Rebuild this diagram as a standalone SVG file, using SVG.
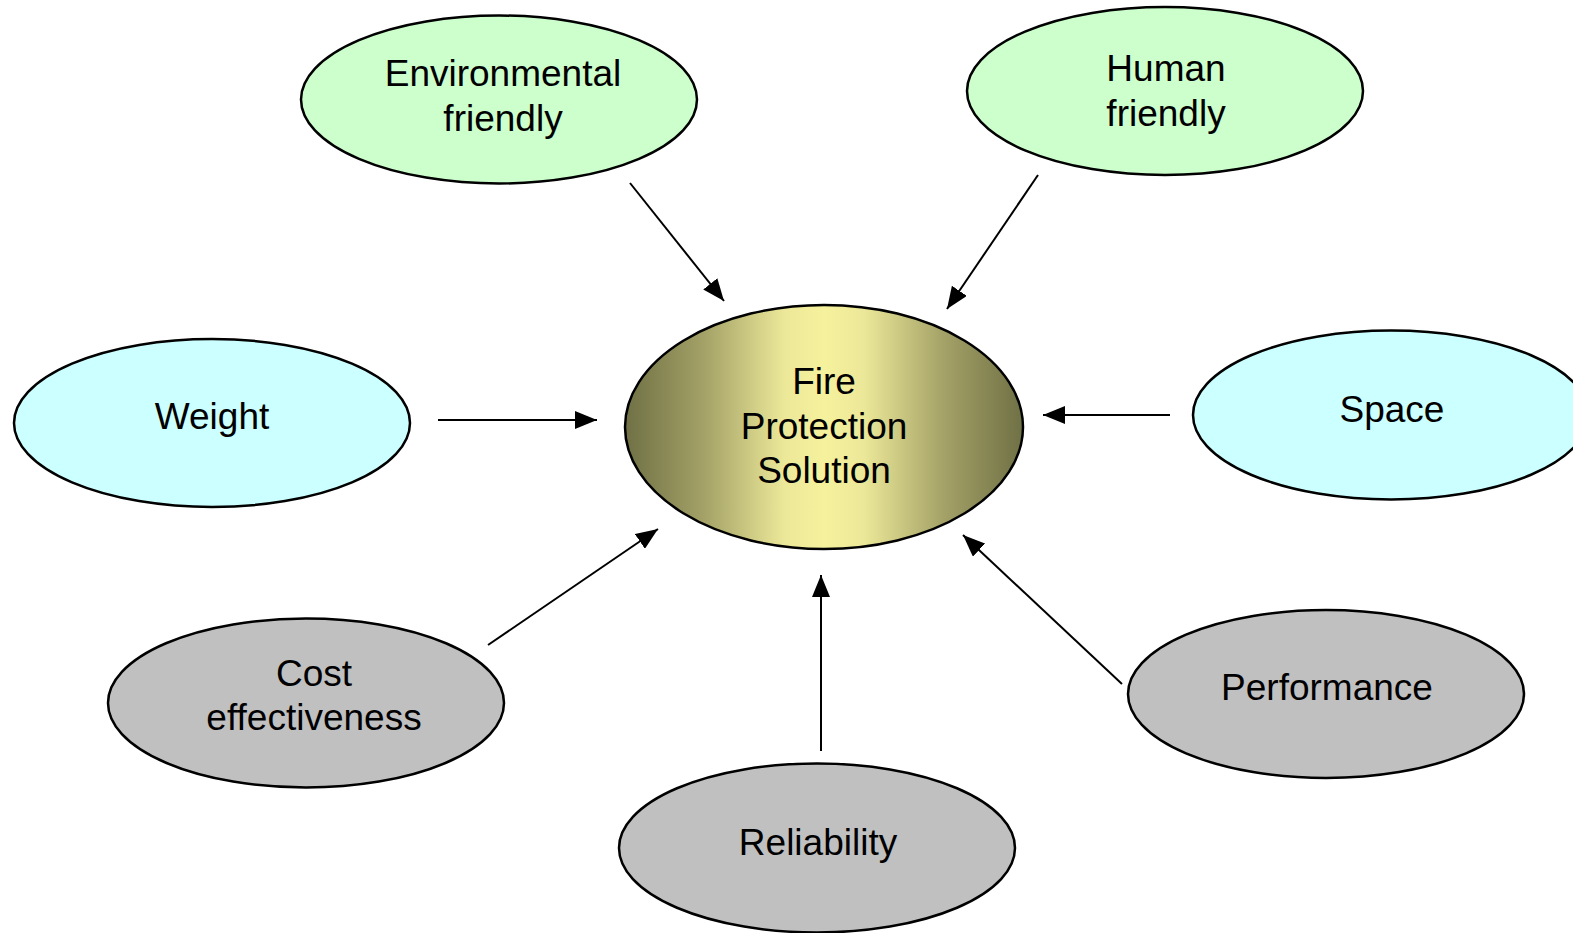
<svg xmlns="http://www.w3.org/2000/svg" width="1573" height="933" viewBox="0 0 1573 933">
<defs>
<linearGradient id="gold" x1="0" y1="0" x2="1" y2="0">
<stop offset="0" stop-color="#6f7045"/>
<stop offset="0.2" stop-color="#a4a267"/>
<stop offset="0.4" stop-color="#ece899"/>
<stop offset="0.5" stop-color="#f5f19c"/>
<stop offset="0.6" stop-color="#ece899"/>
<stop offset="0.8" stop-color="#a4a267"/>
<stop offset="1" stop-color="#6f7045"/>
</linearGradient>
<marker id="arr" viewBox="0 0 22 18" refX="22" refY="9" markerWidth="22" markerHeight="18" markerUnits="userSpaceOnUse" orient="auto">
<path d="M0,0 L22,9 L0,18 Z" fill="#000"/>
</marker>
</defs>
<style>
ellipse{stroke:#000;stroke-width:2.5}
.g{fill:#ccffcc}.c{fill:#ccffff}.s{fill:#c0c0c0}
text{font-family:"Liberation Sans",Arial,sans-serif;font-size:37px;fill:#000;text-anchor:middle}
#connectors line{stroke:#000;stroke-width:2;marker-end:url(#arr)}
</style>
<rect width="1573" height="933" fill="#fff"/>
<g id="connectors">
<line x1="630" y1="183" x2="724" y2="301"/>
<line x1="1038" y1="175" x2="947" y2="309"/>
<line x1="438" y1="420" x2="597" y2="420"/>
<line x1="1170" y1="415" x2="1043" y2="415"/>
<line x1="488" y1="645" x2="658" y2="529"/>
<line x1="821" y1="751" x2="821" y2="575"/>
<line x1="1122" y1="684" x2="963" y2="535"/>
</g>
<g id="env"><ellipse class="g" cx="499" cy="99.5" rx="198" ry="84"/><text x="503" y="86">Environmental</text><text x="503" y="131">friendly</text></g>
<g id="human"><ellipse class="g" cx="1165" cy="91" rx="198" ry="84"/><text x="1166" y="81">Human</text><text x="1166" y="126">friendly</text></g>
<g id="weight"><ellipse class="c" cx="212" cy="423" rx="198" ry="84"/><text x="212" y="429">Weight</text></g>
<g id="space"><ellipse class="c" cx="1391" cy="415" rx="198" ry="84.5"/><text x="1392" y="422">Space</text></g>
<g id="fire"><ellipse cx="824" cy="427" rx="199" ry="122" fill="url(#gold)"/><text x="824" y="394">Fire</text><text x="824" y="439">Protection</text><text x="824" y="483">Solution</text></g>
<g id="cost"><ellipse class="s" cx="306" cy="703" rx="198" ry="84.5"/><text x="314" y="686">Cost</text><text x="314" y="730">effectiveness</text></g>
<g id="reliability"><ellipse class="s" cx="817" cy="848" rx="198" ry="84.5"/><text x="818" y="855">Reliability</text></g>
<g id="performance"><ellipse class="s" cx="1326" cy="694" rx="198" ry="84"/><text x="1327" y="700">Performance</text></g>
</svg>
